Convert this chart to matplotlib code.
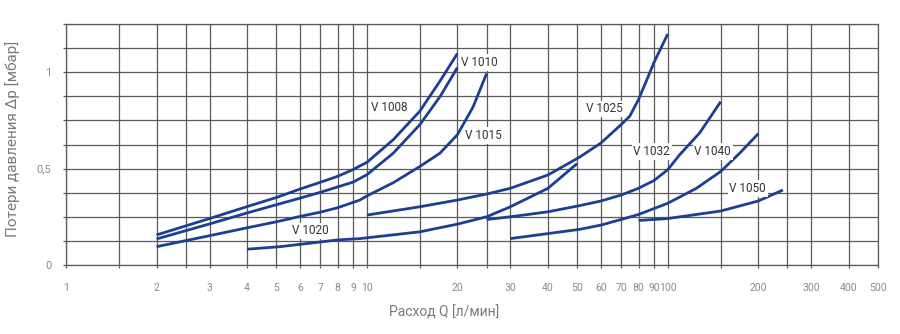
import matplotlib
matplotlib.use("Agg")
import matplotlib.pyplot as plt
from matplotlib.ticker import FixedLocator, FixedFormatter, NullLocator

plt.rcParams['font.family'] = ['Roboto', 'DejaVu Sans']

# Flow rate Q [l/min] and pressure loss dp [mbar] for each valve size
q_v1008 = [2, 3, 4, 5, 6, 7, 8, 9, 9.48, 10, 12.24, 15, 17.5, 20]
dp_v1008 = [0.156, 0.241, 0.303, 0.35, 0.394, 0.429, 0.46, 0.495, 0.514, 0.532,
            0.65, 0.798, 0.954, 1.097]

q_v1010 = [2, 3, 4, 5, 6, 7, 8, 9, 10, 12.24, 15, 17.5, 20]
dp_v1010 = [0.135, 0.213, 0.27, 0.3125, 0.347, 0.377, 0.405, 0.43, 0.468,
            0.58, 0.728, 0.873, 1.024]

q_v1015 = [2, 3, 4, 5, 6, 7, 8, 9.48, 10, 12.24, 15, 17.5, 20, 22.55, 25]
dp_v1015 = [0.095, 0.152, 0.193, 0.224, 0.252, 0.274, 0.297, 0.337, 0.358,
            0.427, 0.511, 0.58, 0.676, 0.82, 0.993]

q_v1020 = [4, 5.14, 8, 9.48, 15, 20, 25, 30, 40, 50]
dp_v1020 = [0.082, 0.095, 0.13, 0.137, 0.172, 0.212, 0.25, 0.302, 0.398, 0.526]

q_v1025 = [10, 15, 20, 25, 30, 40, 51, 60, 70, 74.8, 80, 84.9, 90, 100]
dp_v1025 = [0.259, 0.302, 0.337, 0.368, 0.398, 0.467, 0.56, 0.633, 0.728, 0.772,
            0.859, 0.954, 1.05, 1.198]

q_v1032 = [25, 30, 40, 51, 60, 70, 80, 90, 100, 109.6, 127.7, 150]
dp_v1032 = [0.236, 0.25, 0.276, 0.308, 0.332, 0.363, 0.398, 0.438, 0.494, 0.572,
            0.685, 0.847]

q_v1040 = [30, 40, 51, 60, 70, 80, 100, 124.6, 150, 173.5, 200]
dp_v1040 = [0.137, 0.163, 0.185, 0.207, 0.236, 0.262, 0.32, 0.398, 0.485, 0.58, 0.681]

q_v1050 = [80, 100, 150, 200, 241.6]
dp_v1050 = [0.231, 0.241, 0.28, 0.332, 0.389]

series = [
    ("V 1008", q_v1008, dp_v1008, (11.92, 0.815)),
    ("V 1010", q_v1010, dp_v1010, (23.56, 1.049)),
    ("V 1015", q_v1015, dp_v1015, (24.47, 0.672)),
    ("V 1020", q_v1020, dp_v1020, (6.51, 0.177)),
    ("V 1025", q_v1025, dp_v1025, (61.5, 0.81)),
    ("V 1032", q_v1032, dp_v1032, (88.5, 0.589)),
    ("V 1040", q_v1040, dp_v1040, (141.1, 0.589)),
    ("V 1050", q_v1050, dp_v1050, (184.4, 0.396)),
]

x_grid = [1, 1.5, 2, 2.5, 3, 4, 5, 6, 7, 8, 9, 10, 15, 20, 25, 30, 40, 50, 60,
          70, 80, 90, 100, 150, 200, 250, 300, 400, 500]
x_labels = ["1", "", "2", "", "3", "4", "5", "6", "7", "8", "9", "10", "", "20", "",
            "30", "40", "50", "60", "70", "80", "90", "100", "", "200", "", "300",
            "400", "500"]
y_grid = [0, 0.125, 0.25, 0.375, 0.5, 0.625, 0.75, 0.875, 1.0, 1.125, 1.25]
y_labels = ["0", "", "", "", "0,5", "", "", "", "1", "", ""]

grid_color = "#5a5a5a"
line_color = "#1c3f92"
tick_text = "#8a8a8a"

fig = plt.figure(figsize=(9.0, 3.34), dpi=100)
ax = fig.add_axes([66 / 900, 1 - 265 / 334, (878 - 66) / 900, (265 - 24) / 334])
ax.set_xscale("log")
ax.set_xlim(1, 500)
ax.set_ylim(0, 1.25)

ax.xaxis.set_major_locator(FixedLocator(x_grid))
ax.xaxis.set_major_formatter(FixedFormatter(x_labels))
ax.xaxis.set_minor_locator(NullLocator())
ax.yaxis.set_major_locator(FixedLocator(y_grid))
ax.yaxis.set_major_formatter(FixedFormatter(y_labels))

ax.grid(True, which="major", color=grid_color, linewidth=0.9)
for s in ax.spines.values():
    s.set_color(grid_color)
    s.set_linewidth(0.9)

ax.tick_params(axis="x", length=2.5, width=0.9, color=grid_color, labelsize=7.5,
               labelcolor=tick_text, pad=10.5)
ax.tick_params(axis="y", length=2.5, width=0.9, color=grid_color, labelsize=8,
               labelcolor=tick_text, pad=8)

for name, q, dp, (lx, ly) in series:
    ax.plot(q, dp, color=line_color, linewidth=2.0, solid_capstyle="butt",
            solid_joinstyle="round", zorder=3)
    ax.text(lx, ly, name, ha="center", va="center", fontsize=8.5, color="#333333",
            zorder=4, bbox=dict(boxstyle="square,pad=0.15", fc="white", ec="none"))

ax.set_xlabel("Расход Q [л/мин]", fontsize=10, color="#7a7a7a")
ax.xaxis.set_label_coords((444.5 - 66) / 812, (265 - 305) / 241)
ax.set_ylabel("Потери давления Δр [мбар]", fontsize=11, color="#7a7a7a")
ax.yaxis.set_label_coords((20 - 66) / 812, (265 - 139) / 241)

fig.savefig("out.png", dpi=100)
